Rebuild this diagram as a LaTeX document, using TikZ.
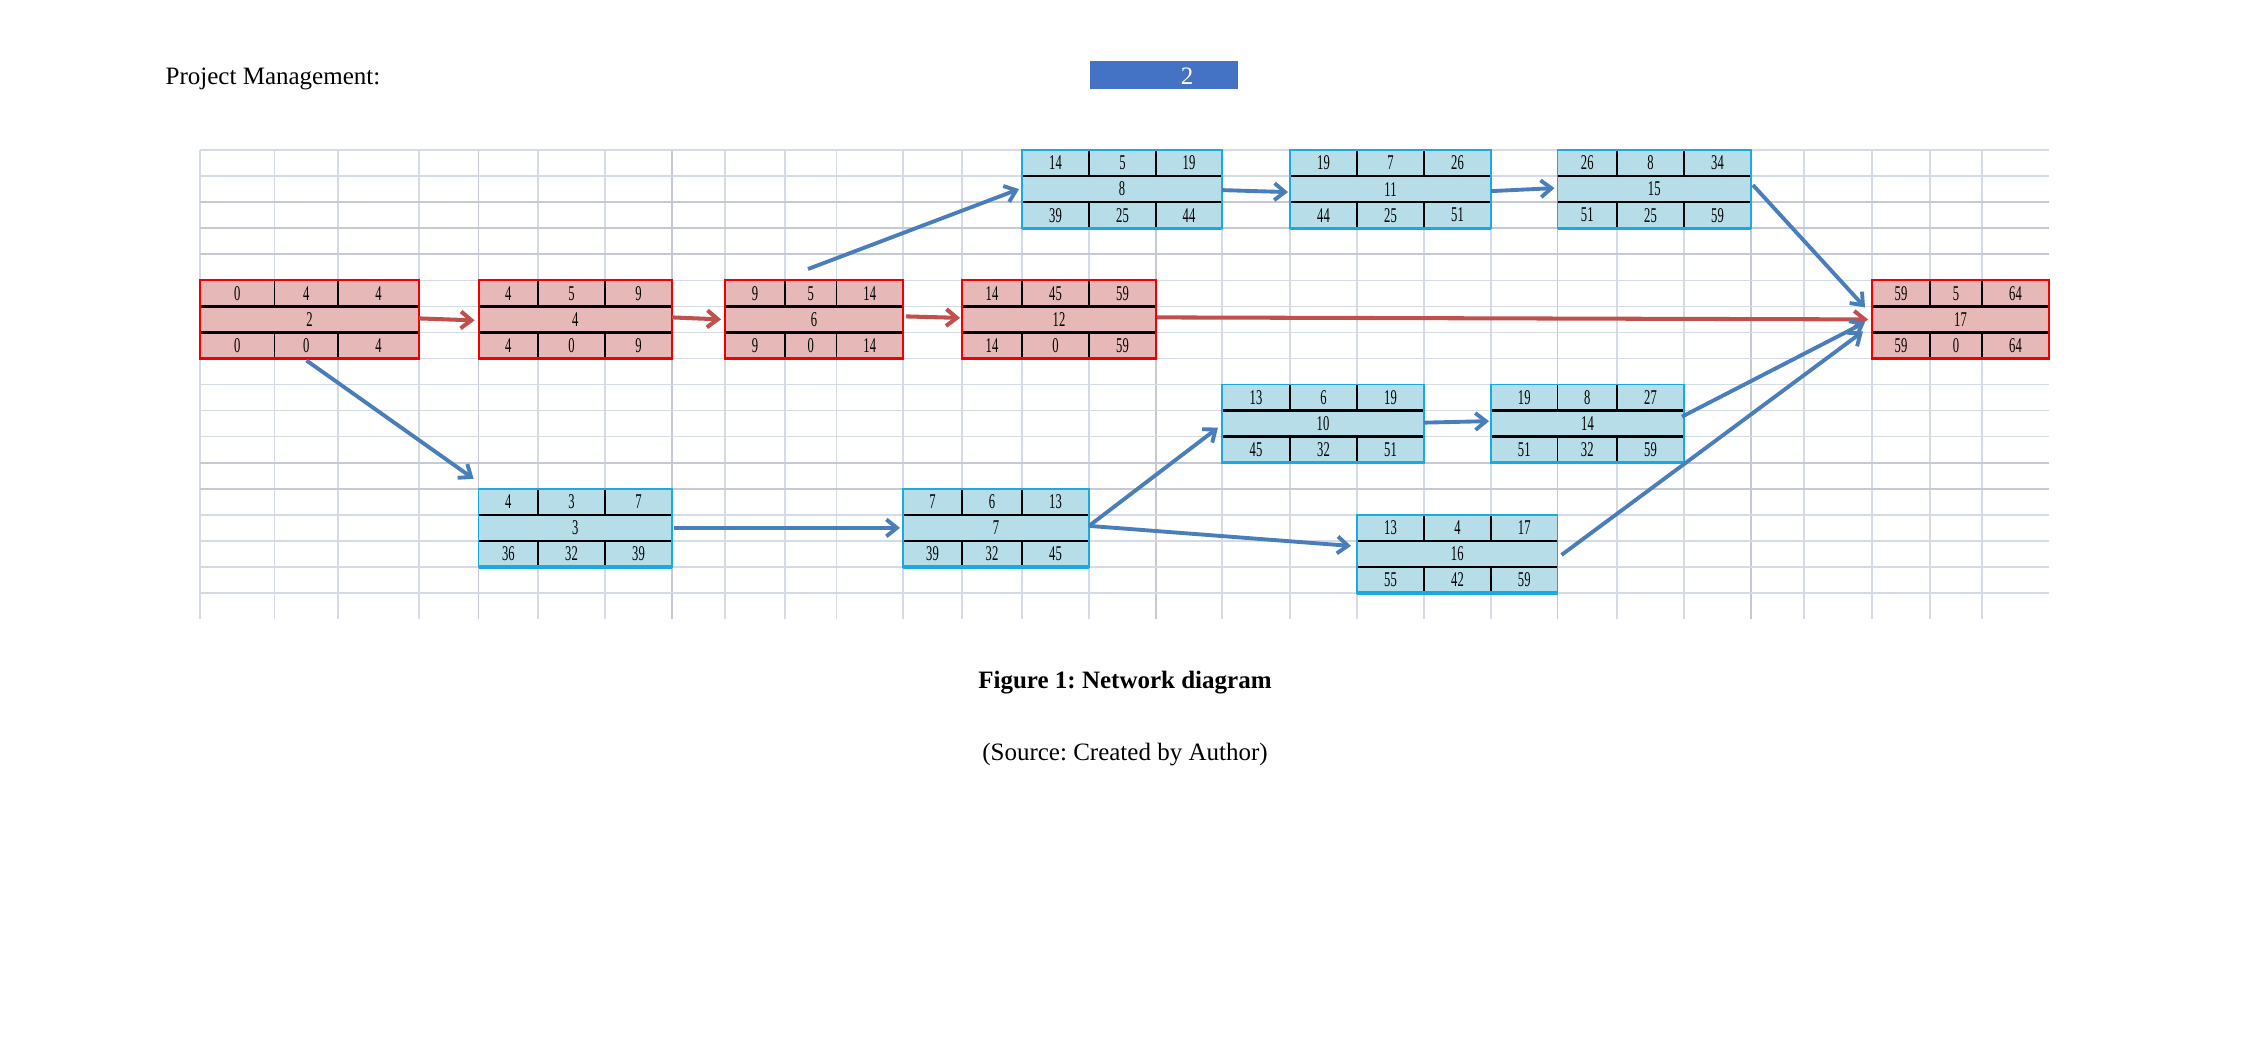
\documentclass[tikz,border=0pt]{standalone}
\usepackage{fontspec}
\setmainfont{Liberation Serif}
\newfontfamily\cellfont[FakeStretch=0.6]{Liberation Serif}
\usetikzlibrary{arrows.meta,calc,fit}
\frenchspacing
\definecolor{redfill}{HTML}{E6B8B7}
\definecolor{rededgec}{HTML}{F00000}
\definecolor{bluefill}{HTML}{B7DEE8}
\definecolor{blueedgec}{HTML}{1AA9E0}
\definecolor{redarr}{HTML}{C0504D}
\definecolor{bluearr}{HTML}{4A7EBB}
\definecolor{hdrblue}{HTML}{4472C4}
\definecolor{gridc}{HTML}{D5DBE5}
\definecolor{gridd}{HTML}{C4C9D3}

\def\nbgetfour#1,#2,#3,#4\relax{\def\nbxa{#1}\def\nbxb{#2}\def\nbxc{#3}\def\nbxd{#4}}
\def\nbgetthree#1,#2,#3\relax{\def\nbva{#1}\def\nbvb{#2}\def\nbvc{#3}}

% name, kind (red/blue), x-lines, first row, top values, middle value, bottom values
\newcommand\netbox[7]{%
  \nbgetfour#3\relax
  \pgfmathsetmacro\nbya{150+26.06*#4}%
  \pgfmathsetmacro\nbyb{\nbya+26.06}%
  \pgfmathsetmacro\nbyc{\nbya+52.12}%
  \pgfmathsetmacro\nbyd{\nbya+78.18}%
  \fill[#2fill] (\nbxa,\nbya) rectangle (\nbxd,\nbyd);
  \draw[innerline] (\nbxa,\nbyb) -- (\nbxd,\nbyb) (\nbxa,\nbyc) -- (\nbxd,\nbyc);
  \draw[dividerline] (\nbxb,\nbya) -- (\nbxb,\nbyb) (\nbxc,\nbya) -- (\nbxc,\nbyb)
        (\nbxb,\nbyc) -- (\nbxb,\nbyd) (\nbxc,\nbyc) -- (\nbxc,\nbyd);
  \draw[#2edge] (\nbxa,\nbya) rectangle (\nbxd,\nbyd);
  \draw[#2bottom] (\nbxa,\nbyd) -- (\nbxd,\nbyd);
  \node[fit={(\nbxa,\nbya) (\nbxd,\nbyd)}, inner sep=0pt, outer sep=0pt] (#1) {};
  \nbgetthree#5\relax
  \node[cell] (#1-t1) at ({(\nbxa+\nbxb)/2},{(\nbya+\nbyb)/2}) {\nbva};
  \node[cell] (#1-t2) at ({(\nbxb+\nbxc)/2},{(\nbya+\nbyb)/2}) {\nbvb};
  \node[cell] (#1-t3) at ({(\nbxc+\nbxd)/2},{(\nbya+\nbyb)/2}) {\nbvc};
  \node[cell] (#1-m) at ({(\nbxa+\nbxd)/2},{(\nbyb+\nbyc)/2}) {#6};
  \nbgetthree#7\relax
  \node[cell] (#1-b1) at ({(\nbxa+\nbxb)/2},{(\nbyc+\nbyd)/2}) {\nbva};
  \node[cell] (#1-b2) at ({(\nbxb+\nbxc)/2},{(\nbyc+\nbyd)/2}) {\nbvb};
  \node[cell] (#1-b3) at ({(\nbxc+\nbxd)/2},{(\nbyc+\nbyd)/2}) {\nbvc};
}

\begin{document}
\begin{tikzpicture}[x=0.01cm,y=-0.01cm,
  gridline/.style={draw=gridc, line width=0.4pt},
  gridlined/.style={draw=gridd, line width=0.45pt},
  innerline/.style={draw=black, line width=0.7pt},
  dividerline/.style={draw=black, line width=0.5pt},
  rededge/.style={draw=rededgec, line width=0.6pt},
  redbottom/.style={draw=rededgec, line width=0.6pt},
  blueedge/.style={draw=blueedgec, line width=0.45pt},
  bluebottom/.style={draw=blueedgec, line width=0.9pt},
  cell/.style={inner sep=0pt, font=\cellfont\fontsize{5.97}{6}\selectfont},
  txt/.style={inner sep=0pt, font=\fontsize{7.11}{8.5}\selectfont},
  redarrow/.style={draw=redarr, line width=1.15pt, -{Straight Barb[length=3pt,width=4.8pt]}},
  bluearrow/.style={draw=bluearr, line width=1.1pt, -{Straight Barb[length=3pt,width=4.8pt]}},
]
\useasboundingbox[fill=white] (0,0) rectangle (2250,1050);

% header
\node[txt, anchor=base west] (title) at (165,84) {Project Management:};
\node[fill=hdrblue, inner sep=0pt, outer sep=0pt, minimum width=1.48cm, minimum height=0.28cm, anchor=north west] (pagebox) at (1090,61) {};
\node[txt, anchor=base, text=white] (pagenum) at (1187,84) {2};

% spreadsheet grid
\foreach \c in {200,274.6,338,419,538,605,725,785,836.5,903,962,1022,1089,1222,1290,1357,1424,1491,1617,1684,1804,1872,1930,1982}
  \draw[gridline] (\c,150) -- (\c,619);
\foreach \c in {478.6,672,1156,1557.5,1751}
  \draw[gridlined] (\c,150) -- (\c,619);
\foreach \k in {0,1,5,6,7,8,9,10,11,14,15,16,17}
  \draw[gridline] (200,{150+26.06*\k}) -- (2049,{150+26.06*\k});
\foreach \k in {2,3,4,12,13}
  \draw[gridlined] (200,{150+26.06*\k}) -- (2049,{150+26.06*\k});

% activity boxes
\netbox{b2}{red}{200,274.6,338,419}{5}{0,4,4}{2}{0,0,4}
\netbox{b4}{red}{478.6,538,605,672}{5}{4,5,9}{4}{4,0,9}
\netbox{b6}{red}{725,785,836.5,903}{5}{9,5,14}{6}{9,0,14}
\netbox{b12}{red}{962,1022,1089,1156}{5}{14,45,59}{12}{14,0,59}
\netbox{b17}{red}{1872,1930,1982,2049}{5}{59,5,64}{17}{59,0,64}
\netbox{b8}{blue}{1022,1089,1156,1222}{0}{14,5,19}{8}{39,25,44}
\netbox{b11}{blue}{1290,1357,1424,1491}{0}{19,7,26}{11}{44,25,51}
\netbox{b15}{blue}{1557.5,1617,1684,1751}{0}{26,8,34}{15}{51,25,59}
\netbox{b10}{blue}{1222,1290,1357,1424}{9}{13,6,19}{10}{45,32,51}
\netbox{b14}{blue}{1491,1557.5,1617,1684}{9}{19,8,27}{14}{51,32,59}
\netbox{b16}{blue}{1357,1424,1491,1557.5}{14}{13,4,17}{16}{55,42,59}
\netbox{b3}{blue}{478.6,538,605,672}{13}{4,3,7}{3}{36,32,39}
\netbox{b7}{blue}{903,962,1022,1089}{13}{7,6,13}{7}{39,32,45}

% critical path (red)
\draw[redarrow] ($(b2.east)+(0,-1)$) -- ($(b4.west)+(-4,1)$);
\draw[redarrow] ($(b4.east)+(0,-2)$) -- ($(b6.west)+(-4,0)$);
\draw[redarrow] ($(b6.east)+(3,-3)$) -- ($(b12.west)+(-2,-1.5)$);
\draw[redarrow] ($(b12.east)+(1,-2)$) -- ($(b17.west)+(-4,0)$);

% other connectors (blue)
\coordinate (s8) at (808,269);
\draw[bluearrow] (s8) -- ($(b8.west)+(-3,0)$);
\draw[bluearrow] ($(b8.east)+(0,1)$) -- ($(b11.west)+(-2,3)$);
\draw[bluearrow] ($(b11.east)+(0,2)$) -- ($(b15.west)+(-3,-1)$);
\draw[bluearrow] ($(b15.east)+(2,-4)$) -- ($(b17.west)+(-7,-12)$);
\draw[bluearrow] ($(b2.south)+(-3,2)$) -- ($(b3.north west)+(-5,-10)$);
\draw[bluearrow] ($(b3.east)+(2,0)$) -- ($(b7.west)+(-3,0)$);
\draw[bluearrow] ($(b7.east)+(0,-2)$) -- ($(b10.west)+(-4,4)$);
\draw[bluearrow] ($(b7.east)+(0,-2)$) -- ($(b16.west)+(-6,-8)$);
\draw[bluearrow] ($(b10.east)+(0,-1)$) -- ($(b14.west)+(-2,-2.5)$);
\draw[bluearrow] ($(b14.east)+(-2,-7)$) -- ($(b17.west)+(-7,3)$);
\draw[bluearrow] ($(b16.east)+(4,1)$) -- ($(b17.west)+(-9,12)$);

% caption
\node[txt, anchor=base, font=\fontsize{7.11}{8.5}\selectfont\bfseries] (caption) at (1125,688) {Figure 1: Network diagram};
\node[txt, anchor=base] (source) at (1125,760) {(Source: Created by Author)};
\end{tikzpicture}
\end{document}
